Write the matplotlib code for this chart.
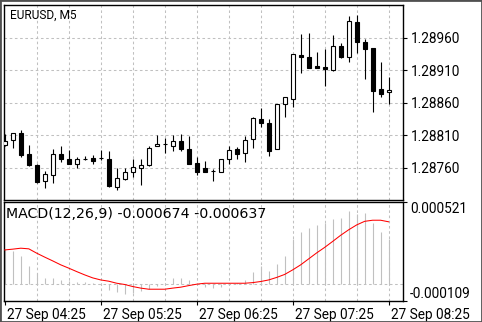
import matplotlib
matplotlib.use("Agg")
import matplotlib.pyplot as plt
from matplotlib.patches import Rectangle
from matplotlib.transforms import ScaledTranslation

plt.rcParams["font.family"] = ["Roboto", "DejaVu Sans"]

# EURUSD M5 candles, 27 Sep 04:25 .. 08:25
opens = [1.28795, 1.28803, 1.28814, 1.28781, 1.28764, 1.28740, 1.28748, 1.28781, 1.28774, 1.28765,
         1.28774, 1.28775, 1.28775, 1.28774, 1.28731, 1.28743, 1.28754, 1.28759, 1.28764, 1.28793,
         1.28796, 1.28793, 1.28801, 1.28789, 1.28767, 1.28759, 1.28755, 1.28753, 1.28774, 1.28789,
         1.28782, 1.28804, 1.28835, 1.28828, 1.28788, 1.28858, 1.28866, 1.28933, 1.28930, 1.28916,
         1.28915, 1.28910, 1.28947, 1.28931, 1.28984, 1.28953, 1.28944, 1.28881, 1.28876]
highs = [1.28812, 1.28814, 1.28818, 1.28795, 1.28765, 1.28755, 1.28788, 1.28794, 1.28787, 1.28776,
         1.28778, 1.28780, 1.28787, 1.28785, 1.28759, 1.28759, 1.28773, 1.28773, 1.28793, 1.28810,
         1.28806, 1.28810, 1.28812, 1.28809, 1.28777, 1.28770, 1.28758, 1.28774, 1.28793, 1.28792,
         1.28808, 1.28838, 1.28852, 1.28835, 1.28858, 1.28869, 1.28935, 1.28966, 1.28967, 1.28938,
         1.28942, 1.28964, 1.28952, 1.28994, 1.28995, 1.28958, 1.28944, 1.28923, 1.28900]
lows = [1.28793, 1.28791, 1.28776, 1.28763, 1.28737, 1.28729, 1.28737, 1.28769, 1.28765, 1.28760,
        1.28772, 1.28765, 1.28772, 1.28731, 1.28725, 1.28741, 1.28746, 1.28734, 1.28763, 1.28793,
        1.28783, 1.28785, 1.28785, 1.28765, 1.28748, 1.28753, 1.28740, 1.28753, 1.28766, 1.28773,
        1.28769, 1.28790, 1.28822, 1.28778, 1.28788, 1.28838, 1.28854, 1.28905, 1.28914, 1.28913,
        1.28885, 1.28909, 1.28928, 1.28922, 1.28937, 1.28897, 1.28845, 1.28868, 1.28858]
closes = [1.28801, 1.28814, 1.28780, 1.28764, 1.28738, 1.28750, 1.28781, 1.28774, 1.28766, 1.28774,
          1.28774, 1.28771, 1.28775, 1.28732, 1.28744, 1.28754, 1.28761, 1.28764, 1.28791, 1.28796,
          1.28796, 1.28801, 1.28788, 1.28766, 1.28754, 1.28753, 1.28755, 1.28774, 1.28787, 1.28781,
          1.28802, 1.28836, 1.28829, 1.28786, 1.28858, 1.28868, 1.28935, 1.28930, 1.28914, 1.28914,
          1.28912, 1.28947, 1.28931, 1.28986, 1.28954, 1.28942, 1.28878, 1.28874, 1.28880]

# MACD(12,26,9): main as histogram, signal as line
macd_main = [0.000223, 0.000210, 0.000178, 0.000115, 0.000070, 0.000038, 0.000038, 0.000027, 0.000019, 0.000015,
             0.000010, 0.000006, -0.000006, -0.000038, -0.000054, -0.000064, -0.000057, -0.000045, -0.000032, -0.000013,
             0.000006, 0.000038, 0.000038, 0.000022, -0.000006, -0.000019, -0.000025, -0.000019, -0.000006, 0.000006,
             0.000027, 0.000074, 0.000113, 0.000085, 0.000129, 0.000175, 0.000286, 0.000331, 0.000356, 0.000375,
             0.000388, 0.000414, 0.000417, 0.000461, 0.000445, 0.000452, 0.000388, 0.000333, 0.000288]
macd_signal = [0.000216, 0.000221, 0.000227, 0.000223, 0.000195, 0.000170, 0.000146, 0.000121, 0.000100, 0.000078,
               0.000057, 0.000038, 0.000025, 0.000017, 0.000004, -0.000004, -0.000017, -0.000027, -0.000034, -0.000034,
               -0.000034, -0.000027, -0.000021, -0.000011, -0.000002, 0.000004, 0.000004, 0.000004, 0.000004, 0.000004,
               0.000004, 0.000008, 0.000015, 0.000025, 0.000041, 0.000060, 0.000089, 0.000121, 0.000159, 0.000197,
               0.000232, 0.000270, 0.000309, 0.000344, 0.000375, 0.000398, 0.000405, 0.000405, 0.000395]

price_ticks = [1.28760, 1.28810, 1.28860, 1.28910, 1.28960]
time_tick_bars = [0, 12, 24, 36, 48]
time_labels = ["27 Sep 04:25", "27 Sep 05:25", "27 Sep 06:25", "27 Sep 07:25", "27 Sep 08:25"]
macd_range = (-0.000109, 0.000521)

W, H = 482, 322
GRID = "#c0c0c0"
fig = plt.figure(figsize=(W / 100, H / 100), dpi=100)
ax = fig.add_axes([4 / W, 1 - 200 / H, 399 / W, 195 / H])
ax2 = fig.add_axes([4 / W, 1 - 301 / H, 399 / W, 99 / H])

n = len(opens)
xs = list(range(n))
grid_x = [i for i in xs if i % 4 == 0 and i > 0]

for a in (ax, ax2):
    a.set_xlim(-0.1, 49.8)
    for gx in grid_x:
        a.axvline(gx, color=GRID, lw=0.75, ls=(0, (2.5, 2.5)), zorder=0)
    for s in a.spines.values():
        s.set_color("black")
        s.set_linewidth(1.0)

# candles
for i in xs:
    o, h, l, c = opens[i], highs[i], lows[i], closes[i]
    ax.vlines(i, l, h, color="black", lw=0.8, zorder=2)
    bull = c >= o
    ax.add_patch(Rectangle((i - 0.25, min(o, c)), 0.5, abs(c - o),
                           facecolor="white" if bull else "black",
                           edgecolor="black", lw=0.8, zorder=3))

for p in price_ticks:
    ax.axhline(p, color=GRID, lw=0.75, ls=(0, (2.5, 2.5)), zorder=0)
ax.set_ylim(1.287103, 1.290103)
ax.set_yticks(price_ticks)
ax.set_yticklabels([f"{p:.5f}" for p in price_ticks])
ax.yaxis.tick_right()
ax.tick_params(axis="y", direction="out", length=3, width=0.8, pad=2.5, labelsize=9.8)
ax.set_xticks([])
ax.text(6 / 399, 1 - 10 / 195, "EURUSD, M5", transform=ax.transAxes,
        ha="left", va="center", fontsize=8.6)

# MACD panel
ax2.axhline(0, color=GRID, lw=0.75, ls=(0, (2.5, 2.5)), zorder=0)
ax2.vlines(xs, 0, macd_main, color="#c0c0c0", lw=0.8, zorder=2)
ax2.plot(xs, macd_signal, color="red", lw=0.75, zorder=3)
ax2.set_ylim(*macd_range)
ax2.yaxis.tick_right()
ax2.set_yticks(list(macd_range))
ax2.set_yticklabels(["", ""])
ax2.tick_params(axis="y", direction="out", length=3, width=0.8)
ax2.text(406 / 399, 1 - 7 / 99, f"{macd_range[1]:.6f}", transform=ax2.transAxes,
         ha="left", va="center", fontsize=9.8)
ax2.text(406 / 399, 7 / 99, f"{macd_range[0]:.6f}", transform=ax2.transAxes,
         ha="left", va="center", fontsize=9.8)
ax2.text(2 / 399, 1 - 12 / 99, "MACD(12,26,9) -0.000674 -0.000637", transform=ax2.transAxes,
         ha="left", va="center", fontsize=10.2, family=["DejaVu Sans"])

ax2.set_xticks(time_tick_bars)
ax2.set_xticklabels(time_labels)
ax2.tick_params(axis="x", direction="out", length=3, width=0.8, pad=2, labelsize=9.8)
shift = ScaledTranslation(2 / 100, 0, fig.dpi_scale_trans)
for lbl in ax2.get_xticklabels():
    lbl.set_horizontalalignment("left")
    lbl.set_transform(lbl.get_transform() + shift)

fig.patches.append(Rectangle((0, 0), 1, 1, transform=fig.transFigure, fill=False,
                             edgecolor="#505050", lw=2))

fig.savefig("out.png", dpi=100)
